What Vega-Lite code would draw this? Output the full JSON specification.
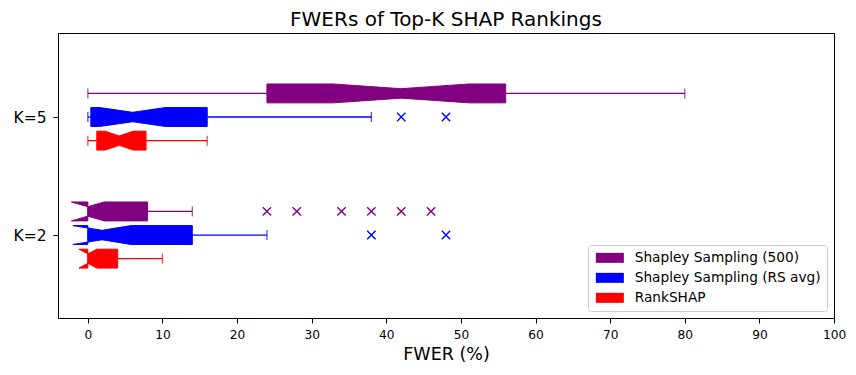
{
  "$schema": "https://vega.github.io/schema/vega-lite/v6.json",
  "width": 776,
  "height": 285,
  "autosize": {"type": "none"},
  "padding": {"left": 58, "top": 33, "right": 22, "bottom": 57},
  "background": "white",
  "config": {
    "font": "DejaVu Sans",
    "view": {"stroke": "black", "strokeWidth": 1},
    "axis": {"grid": false, "domainColor": "black", "tickColor": "black", "labelColor": "black", "titleColor": "black", "labelFont": "DejaVu Sans", "titleFont": "DejaVu Sans", "titleFontWeight": "normal", "labelFlush": false}
  },
  "title": {"text": "FWERs of Top-K SHAP Rankings", "fontSize": 20, "fontWeight": "normal", "font": "DejaVu Sans", "color": "black", "offset": 3},
  "datasets": {
    "boxes": [
      {"K": "K=5", "group": "Shapley Sampling (500)", "wlo": 0, "q1": 24, "nlo": 32.9, "med": 42, "nhi": 51.1, "q3": 56, "whi": 80},
      {"K": "K=5", "group": "Shapley Sampling (RS avg)", "wlo": 0, "q1": 0.4, "nlo": 1.6, "med": 6, "nhi": 10.4, "q3": 16, "whi": 38},
      {"K": "K=5", "group": "RankSHAP", "wlo": 0, "q1": 1.2, "nlo": 2.3, "med": 4.2, "nhi": 6.1, "q3": 7.8, "whi": 16},
      {"K": "K=2", "group": "Shapley Sampling (500)", "wlo": 0, "q1": 0, "nlo": -2.2, "med": 0, "nhi": 2.2, "q3": 8, "whi": 14},
      {"K": "K=2", "group": "Shapley Sampling (RS avg)", "wlo": 0, "q1": 0, "nlo": -2, "med": 1.9, "nhi": 5.8, "q3": 14, "whi": 24},
      {"K": "K=2", "group": "RankSHAP", "wlo": 0, "q1": 0, "nlo": -1.2, "med": 0, "nhi": 1.2, "q3": 4, "whi": 10}
    ],
    "outliers": [
      {"K": "K=5", "group": "Shapley Sampling (RS avg)", "v": 42},
      {"K": "K=5", "group": "Shapley Sampling (RS avg)", "v": 48},
      {"K": "K=2", "group": "Shapley Sampling (500)", "v": 24},
      {"K": "K=2", "group": "Shapley Sampling (500)", "v": 28},
      {"K": "K=2", "group": "Shapley Sampling (500)", "v": 34},
      {"K": "K=2", "group": "Shapley Sampling (500)", "v": 38},
      {"K": "K=2", "group": "Shapley Sampling (500)", "v": 42},
      {"K": "K=2", "group": "Shapley Sampling (500)", "v": 46},
      {"K": "K=2", "group": "Shapley Sampling (RS avg)", "v": 38},
      {"K": "K=2", "group": "Shapley Sampling (RS avg)", "v": 48}
    ]
  },
  "layer": [
    {
      "data": {"name": "boxes"},
      "transform": [
        {"calculate": "(datum.K=='K=5'?2:1)+(datum.group=='Shapley Sampling (500)'?0.2:datum.group=='RankSHAP'?-0.2:0)", "as": "c"},
        {"calculate": "datum.q1", "as": "q1b"},
        {"calculate": "datum.nlo", "as": "nlob"},
        {"calculate": "datum.med", "as": "medb"},
        {"calculate": "datum.nhi", "as": "nhib"},
        {"calculate": "datum.q3", "as": "q3b"},
        {"calculate": "datum.q1", "as": "q1c"},
        {"fold": ["q1", "nlo", "med", "nhi", "q3", "q3b", "nhib", "medb", "nlob", "q1b", "q1c"], "as": ["corner", "xv"]},
        {"calculate": "indexof(['q1','nlo','med','nhi','q3','q3b','nhib','medb','nlob','q1b','q1c'], datum.corner)", "as": "ord"},
        {"calculate": "datum.c + (datum.corner=='med' ? 0.04 : datum.corner=='medb' ? -0.04 : (datum.ord < 5 || datum.ord == 10) ? 0.08 : -0.08)", "as": "yv"}
      ],
      "mark": {"type": "line", "strokeWidth": 1, "interpolate": "linear"},
      "encoding": {
        "x": {"field": "xv", "type": "quantitative", "title": "FWER (%)",
          "scale": {"domain": [-4, 100], "nice": false, "zero": false, "padding": 0},
          "axis": {"values": [0, 10, 20, 30, 40, 50, 60, 70, 80, 90, 100], "labelFontSize": 12.2, "titleFontSize": 17.5, "tickSize": 5, "labelPadding": 5, "titlePadding": 5, "domain": false, "labelFlush": false}},
        "y": {"field": "yv", "type": "quantitative", "title": null,
          "scale": {"domain": [0.297, 2.712], "nice": false, "zero": false, "padding": 0},
          "axis": {"values": [1, 2], "labelExpr": "datum.value == 2 ? 'K=5' : 'K=2'", "labelFontSize": 15.5, "tickSize": 5, "labelPadding": 7, "domain": false, "labelFlush": false}},
        "order": {"field": "ord", "type": "quantitative"},
        "detail": {"field": "K", "type": "nominal"},
        "fill": {"field": "group", "type": "nominal",
          "scale": {"domain": ["Shapley Sampling (500)", "Shapley Sampling (RS avg)", "RankSHAP"], "range": ["#800080", "#0000ff", "#ff0000"]},
          "legend": {"title": null, "orient": "bottom-right", "offset": 7, "symbolType": "M-2.8,-1H2.8V1H-2.8Z", "symbolSize": 100, "symbolOffset": 9, "labelOffset": 18, "symbolStrokeWidth": 0, "labelFontSize": 13.7, "labelFont": "DejaVu Sans", "labelColor": "black", "rowPadding": 5, "padding": 6, "strokeColor": "#cccccc", "cornerRadius": 3, "fillColor": "rgba(255,255,255,0.8)", "labelLimit": 300}},
        "stroke": {"field": "group", "type": "nominal",
          "scale": {"domain": ["Shapley Sampling (500)", "Shapley Sampling (RS avg)", "RankSHAP"], "range": ["#800080", "#0000ff", "#ff0000"]},
          "legend": null}
      }
    },
    {
      "data": {"name": "boxes"},
      "transform": [
        {"calculate": "(datum.K=='K=5'?2:1)+(datum.group=='Shapley Sampling (500)'?0.2:datum.group=='RankSHAP'?-0.2:0)", "as": "c"}
      ],
      "mark": {"type": "rule", "strokeWidth": 1.3},
      "encoding": {
        "x": {"field": "wlo", "type": "quantitative", "title": "FWER (%)"},
        "x2": {"field": "q1"},
        "y": {"field": "c", "type": "quantitative", "title": null},
        "stroke": {"field": "group", "type": "nominal", "legend": null}
      }
    },
    {
      "data": {"name": "boxes"},
      "transform": [
        {"calculate": "(datum.K=='K=5'?2:1)+(datum.group=='Shapley Sampling (500)'?0.2:datum.group=='RankSHAP'?-0.2:0)", "as": "c"}
      ],
      "mark": {"type": "rule", "strokeWidth": 1.3},
      "encoding": {
        "x": {"field": "q3", "type": "quantitative", "title": "FWER (%)"},
        "x2": {"field": "whi"},
        "y": {"field": "c", "type": "quantitative", "title": null},
        "stroke": {"field": "group", "type": "nominal", "legend": null}
      }
    },
    {
      "data": {"name": "boxes"},
      "transform": [
        {"calculate": "(datum.K=='K=5'?2:1)+(datum.group=='Shapley Sampling (500)'?0.2:datum.group=='RankSHAP'?-0.2:0)", "as": "c"},
        {"fold": ["wlo", "whi"], "as": ["end", "xv"]}
      ],
      "mark": {"type": "tick", "orient": "vertical", "size": 10, "thickness": 1.3},
      "encoding": {
        "x": {"field": "xv", "type": "quantitative", "title": "FWER (%)"},
        "y": {"field": "c", "type": "quantitative", "title": null},
        "color": {"field": "group", "type": "nominal", "scale": {"domain": ["Shapley Sampling (500)", "Shapley Sampling (RS avg)", "RankSHAP"], "range": ["#800080", "#0000ff", "#ff0000"]}, "legend": null}
      }
    },
    {
      "data": {"name": "outliers"},
      "transform": [
        {"calculate": "(datum.K=='K=5'?2:1)+(datum.group=='Shapley Sampling (500)'?0.2:datum.group=='RankSHAP'?-0.2:0)", "as": "c"}
      ],
      "mark": {"type": "point", "shape": "M-1,-1L1,1M-1,1L1,-1", "filled": false, "size": 70, "strokeWidth": 1.4, "opacity": 1},
      "encoding": {
        "x": {"field": "v", "type": "quantitative", "title": "FWER (%)"},
        "y": {"field": "c", "type": "quantitative", "title": null},
        "stroke": {"field": "group", "type": "nominal", "legend": null}
      }
    },
    {
      "mark": {"type": "rule", "color": "#1f77b4", "strokeWidth": 2},
      "encoding": {
        "x": {"datum": 20, "type": "quantitative"}
      }
    }
  ]
}
